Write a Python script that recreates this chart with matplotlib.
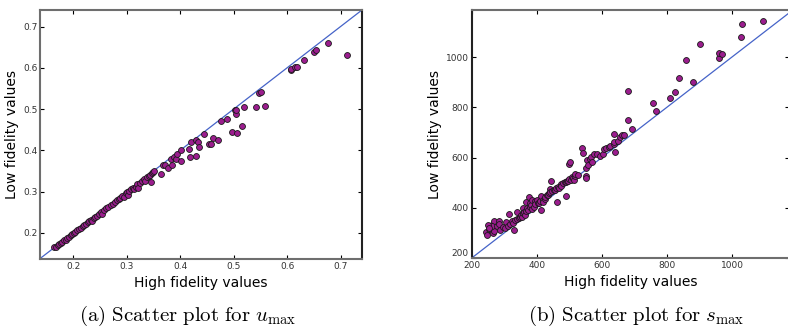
import matplotlib
matplotlib.use('Agg')
from matplotlib import pyplot as plt

# Scatter of low vs high fidelity values, two panels: u_max (a) and s_max (b)

# Panel (a): u_max
u_high = [0.165, 0.168, 0.171, 0.174, 0.177, 0.180, 0.183, 0.186, 0.189, 0.192,
          0.195, 0.198, 0.201, 0.204, 0.208, 0.211, 0.214, 0.218, 0.221, 0.224,
          0.227, 0.230, 0.233, 0.236, 0.238, 0.241, 0.244, 0.248, 0.252, 0.254,
          0.258, 0.262, 0.266, 0.270, 0.274, 0.278, 0.282, 0.285, 0.288, 0.291,
          0.295, 0.298, 0.300, 0.302, 0.305, 0.308, 0.311, 0.314, 0.317, 0.320,
          0.322, 0.325, 0.329, 0.332, 0.335, 0.338, 0.341, 0.344, 0.346, 0.347,
          0.350, 0.352, 0.364, 0.368, 0.372, 0.378, 0.382, 0.384, 0.389, 0.393,
          0.395, 0.401, 0.401, 0.416, 0.419, 0.421, 0.429, 0.429, 0.433, 0.436,
          0.445, 0.454, 0.457, 0.461, 0.471, 0.476, 0.487, 0.497, 0.502, 0.504,
          0.505, 0.506, 0.515, 0.519, 0.542, 0.548, 0.551, 0.559, 0.607, 0.608,
          0.615, 0.618, 0.632, 0.651, 0.654, 0.676, 0.712]
u_low = [0.165, 0.167, 0.170, 0.173, 0.175, 0.178, 0.182, 0.184, 0.188, 0.190,
         0.194, 0.197, 0.200, 0.202, 0.206, 0.210, 0.212, 0.216, 0.219, 0.222,
         0.226, 0.228, 0.231, 0.229, 0.236, 0.239, 0.242, 0.245, 0.251, 0.246,
         0.256, 0.260, 0.263, 0.268, 0.271, 0.276, 0.280, 0.283, 0.285, 0.289,
         0.287, 0.296, 0.299, 0.292, 0.302, 0.306, 0.309, 0.307, 0.312, 0.318,
         0.310, 0.321, 0.327, 0.330, 0.325, 0.335, 0.338, 0.340, 0.323, 0.345,
         0.348, 0.350, 0.343, 0.364, 0.364, 0.357, 0.380, 0.365, 0.384, 0.380,
         0.392, 0.400, 0.375, 0.403, 0.385, 0.421, 0.426, 0.387, 0.421, 0.409,
         0.439, 0.415, 0.415, 0.430, 0.424, 0.472, 0.475, 0.445, 0.499, 0.489,
         0.497, 0.442, 0.458, 0.506, 0.504, 0.540, 0.542, 0.507, 0.594, 0.597,
         0.602, 0.603, 0.620, 0.639, 0.642, 0.660, 0.630]

# Panel (b): s_max
s_high = [244, 254, 248, 262, 265, 268, 270, 261, 250, 252, 278, 283, 284, 287,
          297, 301, 304, 312, 318, 315, 324, 326, 330, 334, 340, 340, 345, 349,
          352, 355, 357, 358, 361, 363, 366, 367, 369, 372, 375, 378, 380, 382,
          385, 386, 390, 394, 396, 401, 404, 408, 410, 413, 414, 418, 420, 426,
          426, 432, 434, 437, 440, 442, 443, 447, 452, 455, 460, 463, 466, 468,
          473, 476, 476, 480, 486, 489, 489, 492, 495, 499, 500, 503, 505, 507,
          512, 514, 518, 519, 527, 539, 541, 551, 551, 551, 555, 556, 564, 567,
          570, 577, 586, 595, 605, 606, 612, 621, 624, 636, 637, 637, 641, 651,
          656, 663, 668, 679, 681, 694, 756, 765, 811, 825, 837, 858, 879, 902,
          960, 960, 970, 1029, 1030, 1094]
s_low = [305, 317, 290, 330, 298, 306, 346, 329, 330, 318, 327, 347, 337, 310,
         323, 318, 342, 326, 335, 374, 347, 341, 311, 353, 355, 383, 360, 364,
         371, 364, 400, 378, 383, 372, 386, 423, 398, 390, 441, 402, 418, 410,
         394, 431, 405, 428, 414, 431, 420, 419, 426, 390, 447, 430, 423, 436,
         444, 450, 451, 458, 476, 463, 505, 466, 469, 472, 478, 421, 484, 478,
         491, 496, 488, 497, 503, 445, 501, 505, 508, 575, 514, 581, 512, 521,
         520, 510, 526, 534, 530, 636, 616, 559, 526, 517, 590, 571, 593, 603,
         581, 615, 615, 606, 615, 635, 638, 643, 646, 652, 661, 695, 622, 664,
         680, 688, 688, 749, 866, 712, 818, 784, 837, 859, 916, 990, 899, 1050,
         998, 1014, 1012, 1078, 1132, 1142]

plt.rcParams['mathtext.fontset'] = 'cm'

fig = plt.figure(figsize=(7.88, 3.34), dpi=100)
ax1 = fig.add_axes([0.0508, 0.2246, 0.4086, 0.7455])
ax2 = fig.add_axes([0.5986, 0.2275, 0.4030, 0.7425])

marker_color = '#9b1d8e'
line_color = '#4563c8'

panels = [
    (ax1, u_high, u_low, (0.138, 0.74), (0.137, 0.74), [0.2, 0.3, 0.4, 0.5, 0.6, 0.7],
     r'$\mathrm{(a)\ Scatter\ plot\ for\ }u_{\max}$', 188),
    (ax2, s_high, s_low, (200, 1176), (200, 1187), [200, 400, 600, 800, 1000],
     r'$\mathrm{(b)\ Scatter\ plot\ for\ }s_{\max}$', 636),
]

for ax, xs, ys, xlim, ylim, ticks, caption, cap_x in panels:
    lo = min(xlim[0], ylim[0])
    hi = max(xlim[1], ylim[1])
    ax.plot([lo, hi], [lo, hi], color=line_color, lw=0.9, zorder=1)
    ax.scatter(xs, ys, s=18, c=marker_color, edgecolors='#1a1a1a',
               linewidths=0.6, zorder=2)
    ax.set_xlim(*xlim)
    ax.set_ylim(*ylim)
    ax.set_xticks(ticks)
    ax.set_yticks(ticks)
    ax.tick_params(direction='in', length=3, width=0.8, labelsize=6.5,
                   labelcolor='#333333', top=True, right=True, pad=2)
    ax.tick_params(axis='x', pad=2.5)
    for sp in ax.spines.values():
        sp.set_color('#6e6e6e')
        sp.set_linewidth(1.5)
    ax.set_xlabel('High fidelity values', fontsize=10, labelpad=3)
    ax.set_ylabel('Low fidelity values', fontsize=10, labelpad=3)
    fig.text(cap_x / 788, 0.055, caption, fontsize=15, ha='center', va='center')

ax1.spines['right'].set_color('#222222')
ax2.spines['left'].set_color('#222222')
# keep the y "200" label just above the x "200" label at the shared corner
ax2.get_yticklabels()[0].set_verticalalignment('bottom')

fig.savefig('out.png', dpi=100)
